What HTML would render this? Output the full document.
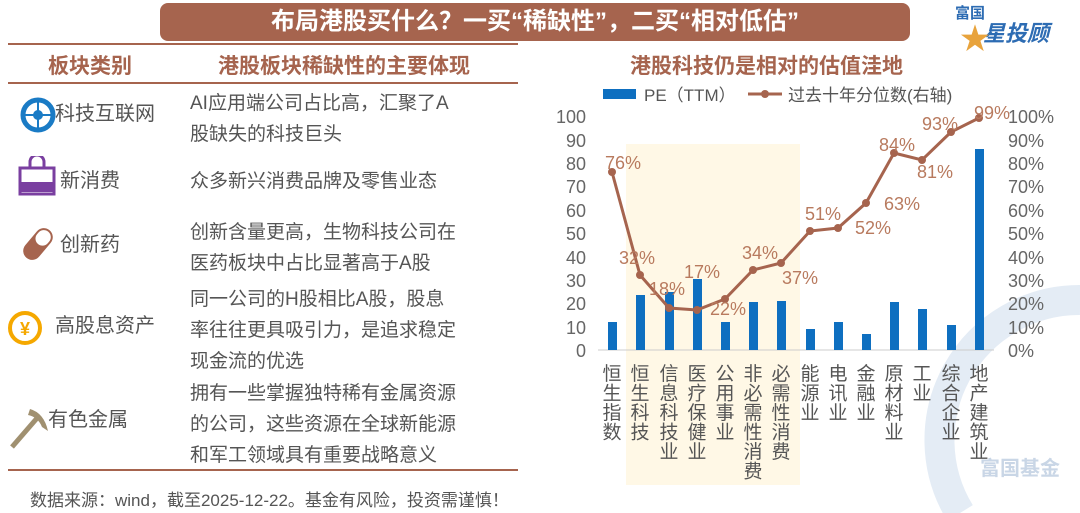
<!DOCTYPE html>
<html><head><meta charset="utf-8"><style>
body{margin:0;width:1080px;height:513px;background:#fff;overflow:hidden;font-family:"Liberation Sans","Noto Sans CJK SC",sans-serif;position:relative}
.a{position:absolute;white-space:nowrap}
.t{font-size:19px;color:#555;line-height:31px}
</style></head><body>
<div class="a" style="left:160px;top:3px;width:750px;height:38px;background:#a6644e;border-radius:8px;color:#fff;font-weight:bold;font-size:24px;text-align:center;line-height:38px">布局港股买什么？一买“稀缺性”，二买“相对低估”</div>
<div class="a" style="left:955px;top:2px;color:#2d6cb3;font-weight:bold;font-size:15px">富国</div>
<div class="a" style="left:983px;top:16px;color:#2d6cb3;font-weight:bold;font-size:22px;font-style:italic">星投顾</div>
<div class="a" style="left:960px;top:14px;color:#e8a33c;font-size:30px">★</div>
<div class="a" style="left:8px;top:43px;width:510px;height:2px;background:#a6644e"></div>
<div class="a" style="left:8px;top:82px;width:510px;height:2px;background:#a6644e"></div>
<div class="a" style="left:8px;top:469px;width:510px;height:2px;background:#a6644e"></div>
<div class="a" style="left:48px;top:50px;color:#a6644e;font-weight:bold;font-size:21px">板块类别</div>
<div class="a" style="left:218px;top:50px;color:#a6644e;font-weight:bold;font-size:21px">港股板块稀缺性的主要体现</div>
<svg class="a" style="left:20px;top:97px" width="36" height="36"><circle cx="18" cy="18" r="15" fill="none" stroke="#1a7bc5" stroke-width="5"/><circle cx="18" cy="18" r="5" fill="#1a7bc5"/><path d="M5 18h26M18 5v26" stroke="#1a7bc5" stroke-width="2"/></svg>
<div class="a t" style="left:55px;top:99px;font-size:20px">科技互联网</div>
<div class="a t" style="left:190px;top:88px">AI应用端公司占比高，汇聚了A<br>股缺失的科技巨头</div>
<svg class="a" style="left:18px;top:156px" width="38" height="40"><path d="M12 12v-6a7 7 0 0 1 14 0v6" fill="none" stroke="#7a3fa0" stroke-width="3"/><rect x="2" y="12" width="34" height="26" fill="none" stroke="#7a3fa0" stroke-width="3"/><rect x="2" y="26" width="34" height="10" fill="#7a3fa0"/></svg>
<div class="a t" style="left:60px;top:166px;font-size:20px">新消费</div>
<div class="a t" style="left:190px;top:166px">众多新兴消费品牌及零售业态</div>
<svg class="a" style="left:18px;top:224px" width="40" height="40"><g transform="rotate(40 20 20)"><rect x="11" y="2" width="18" height="36" rx="9" fill="#a6644e"/><rect x="13" y="4" width="14" height="16" rx="7" fill="#fff"/></g></svg>
<div class="a t" style="left:60px;top:230px;font-size:20px">创新药</div>
<div class="a t" style="left:190px;top:217px">创新含量更高，生物科技公司在<br>医药板块中占比显著高于A股</div>
<svg class="a" style="left:5px;top:309px" width="48" height="38"><circle cx="20" cy="19" r="15" fill="none" stroke="#f5a800" stroke-width="4"/><text x="20" y="26" text-anchor="middle" font-size="18" fill="#f5a800" font-weight="bold">¥</text></svg>
<div class="a t" style="left:55px;top:311px;font-size:20px">高股息资产</div>
<div class="a t" style="left:190px;top:284px">同一公司的H股相比A股，股息<br>率往往更具吸引力，是追求稳定<br>现金流的优选</div>
<svg class="a" style="left:8px;top:405px" width="40" height="44"><path d="M4 42L30 12" stroke="#a09070" stroke-width="5"/><path d="M22 4Q36 8 40 26L34 22Q30 12 20 10Z" fill="#a09070"/></svg>
<div class="a t" style="left:48px;top:405px;font-size:20px">有色金属</div>
<div class="a t" style="left:190px;top:378px">拥有一些掌握独特稀有金属资源<br>的公司，这些资源在全球新能源<br>和军工领域具有重要战略意义</div>
<div class="a" style="left:30px;top:486px;font-size:17px;color:#555">数据来源：wind，截至2025-12-22。基金有风险，投资需谨慎！</div>
<div class="a" style="left:630px;top:50px;color:#a6644e;font-weight:bold;font-size:21px">港股科技仍是相对的估值洼地</div>
<svg class="a" style="left:0;top:0" width="1080" height="513" font-family="Liberation Sans,Noto Sans CJK SC,sans-serif">
<path d="M960 513 A140 140 0 0 1 1080 300" fill="none" stroke="#e4ecf5" stroke-width="30"/>
<text x="1020" y="475" font-size="20" fill="#c9d6e6" text-anchor="middle" font-weight="bold">富国基金</text>
<rect x="626" y="144" width="174" height="341" fill="#fff8e6"/>
<rect x="603" y="89" width="33" height="10" fill="#0e6fc0"/>
<text x="644" y="101" font-size="17" fill="#555">PE（TTM）</text>
<line x1="748" y1="94" x2="782" y2="94" stroke="#a6644e" stroke-width="3"/><circle cx="765" cy="94" r="4" fill="#a6644e"/>
<text x="788" y="101" font-size="17" fill="#555">过去十年分位数(右轴)</text>
<g font-size="18" fill="#666" text-anchor="end">
<text x="586" y="357">0</text><text x="586" y="334">10</text><text x="586" y="310">20</text><text x="586" y="287">30</text><text x="586" y="264">40</text><text x="586" y="240">50</text><text x="586" y="217">60</text><text x="586" y="193">70</text><text x="586" y="170">80</text><text x="586" y="147">90</text><text x="586" y="123">100</text></g>
<g font-size="18" fill="#666">
<text x="1008" y="357">0%</text><text x="1008" y="334">10%</text><text x="1008" y="310">20%</text><text x="1008" y="287">30%</text><text x="1008" y="264">40%</text><text x="1008" y="240">50%</text><text x="1008" y="217">60%</text><text x="1008" y="193">70%</text><text x="1008" y="170">80%</text><text x="1008" y="147">90%</text><text x="1008" y="123">100%</text></g>
<line x1="598" y1="350" x2="994" y2="350" stroke="#ccc"/>
<g fill="#0e6fc0">
<rect x="608" y="322" width="9" height="28"/><rect x="636" y="295" width="9" height="55"/><rect x="665" y="292" width="9" height="58"/><rect x="693" y="279" width="9" height="71"/><rect x="721" y="322" width="9" height="28"/><rect x="749" y="302" width="9" height="48"/><rect x="777" y="301" width="9" height="49"/><rect x="806" y="329" width="9" height="21"/><rect x="834" y="322" width="9" height="28"/><rect x="862" y="334" width="9" height="16"/><rect x="890" y="302" width="9" height="48"/><rect x="918" y="309" width="9" height="41"/><rect x="947" y="325" width="9" height="25"/><rect x="975" y="149" width="9" height="201"/></g>
<polyline fill="none" stroke="#a6644e" stroke-width="3" points="612,172 640,275 669,308 697,310 725,299 753,270 781,263 810,231 838,228 866,203 894,153 922,160 951,132 979,118"/>
<g fill="#a6644e"><circle cx="612" cy="172" r="4"/><circle cx="640" cy="275" r="4"/><circle cx="669" cy="308" r="4"/><circle cx="697" cy="310" r="4"/><circle cx="725" cy="299" r="4"/><circle cx="753" cy="270" r="4"/><circle cx="781" cy="263" r="4"/><circle cx="810" cy="231" r="4"/><circle cx="838" cy="228" r="4"/><circle cx="866" cy="203" r="4"/><circle cx="894" cy="153" r="4"/><circle cx="922" cy="160" r="4"/><circle cx="951" cy="132" r="4"/><circle cx="979" cy="118" r="4"/></g>
<g font-size="18" fill="#b87a5e" text-anchor="middle">
<text x="623" y="169">76%</text><text x="637" y="264">32%</text><text x="667" y="295">18%</text><text x="702" y="278">17%</text><text x="728" y="315">22%</text><text x="760" y="259">34%</text><text x="800" y="284">37%</text><text x="823" y="220">51%</text><text x="873" y="234">52%</text><text x="902" y="210">63%</text><text x="897" y="151">84%</text><text x="935" y="178">81%</text><text x="940" y="130">93%</text><text x="992" y="119">99%</text></g>
<g font-size="19" fill="#555" text-anchor="middle">
<text x="612" y="380">恒<tspan x="612" dy="19.5">生</tspan><tspan x="612" dy="19.5">指</tspan><tspan x="612" dy="19.5">数</tspan></text>
<text x="640" y="380">恒<tspan x="640" dy="19.5">生</tspan><tspan x="640" dy="19.5">科</tspan><tspan x="640" dy="19.5">技</tspan></text>
<text x="669" y="380">信<tspan x="669" dy="19.5">息</tspan><tspan x="669" dy="19.5">科</tspan><tspan x="669" dy="19.5">技</tspan><tspan x="669" dy="19.5">业</tspan></text>
<text x="697" y="380">医<tspan x="697" dy="19.5">疗</tspan><tspan x="697" dy="19.5">保</tspan><tspan x="697" dy="19.5">健</tspan><tspan x="697" dy="19.5">业</tspan></text>
<text x="725" y="380">公<tspan x="725" dy="19.5">用</tspan><tspan x="725" dy="19.5">事</tspan><tspan x="725" dy="19.5">业</tspan></text>
<text x="753" y="380">非<tspan x="753" dy="19.5">必</tspan><tspan x="753" dy="19.5">需</tspan><tspan x="753" dy="19.5">性</tspan><tspan x="753" dy="19.5">消</tspan><tspan x="753" dy="19.5">费</tspan></text>
<text x="781" y="380">必<tspan x="781" dy="19.5">需</tspan><tspan x="781" dy="19.5">性</tspan><tspan x="781" dy="19.5">消</tspan><tspan x="781" dy="19.5">费</tspan></text>
<text x="810" y="380">能<tspan x="810" dy="19.5">源</tspan><tspan x="810" dy="19.5">业</tspan></text>
<text x="838" y="380">电<tspan x="838" dy="19.5">讯</tspan><tspan x="838" dy="19.5">业</tspan></text>
<text x="866" y="380">金<tspan x="866" dy="19.5">融</tspan><tspan x="866" dy="19.5">业</tspan></text>
<text x="894" y="380">原<tspan x="894" dy="19.5">材</tspan><tspan x="894" dy="19.5">料</tspan><tspan x="894" dy="19.5">业</tspan></text>
<text x="922" y="380">工<tspan x="922" dy="19.5">业</tspan></text>
<text x="951" y="380">综<tspan x="951" dy="19.5">合</tspan><tspan x="951" dy="19.5">企</tspan><tspan x="951" dy="19.5">业</tspan></text>
<text x="979" y="380">地<tspan x="979" dy="19.5">产</tspan><tspan x="979" dy="19.5">建</tspan><tspan x="979" dy="19.5">筑</tspan><tspan x="979" dy="19.5">业</tspan></text>
</g>
</svg>
</body></html>
